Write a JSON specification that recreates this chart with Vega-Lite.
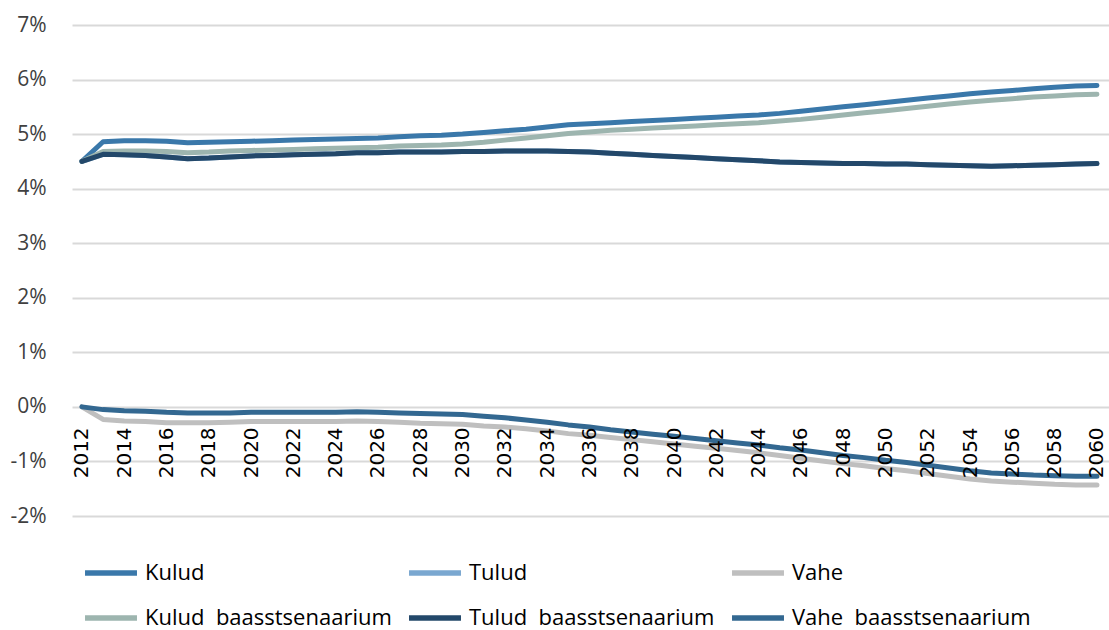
{
  "$schema": "https://vega.github.io/schema/vega-lite/v6.json",
  "width": 1037,
  "height": 491,
  "autosize": {"type": "none"},
  "padding": {"left": 72, "top": 25, "right": 0, "bottom": 114},
  "background": "white",
  "config": {"view": {"stroke": null}},
  "data": {
    "values": [
      {"year": 2012, "Kulud": 4.50, "Tulud": 4.50, "Vahe": 0.00, "Kulud baasstsenaarium": 4.50, "Tulud baasstsenaarium": 4.50, "Vahe baasstsenaarium": 0.00},
      {"year": 2013, "Kulud": 4.86, "Tulud": 4.63, "Vahe": -0.23, "Kulud baasstsenaarium": 4.68, "Tulud baasstsenaarium": 4.63, "Vahe baasstsenaarium": -0.05},
      {"year": 2014, "Kulud": 4.88, "Tulud": 4.62, "Vahe": -0.26, "Kulud baasstsenaarium": 4.69, "Tulud baasstsenaarium": 4.62, "Vahe baasstsenaarium": -0.07},
      {"year": 2015, "Kulud": 4.88, "Tulud": 4.61, "Vahe": -0.27, "Kulud baasstsenaarium": 4.69, "Tulud baasstsenaarium": 4.61, "Vahe baasstsenaarium": -0.08},
      {"year": 2016, "Kulud": 4.87, "Tulud": 4.58, "Vahe": -0.29, "Kulud baasstsenaarium": 4.68, "Tulud baasstsenaarium": 4.58, "Vahe baasstsenaarium": -0.10},
      {"year": 2017, "Kulud": 4.84, "Tulud": 4.55, "Vahe": -0.29, "Kulud baasstsenaarium": 4.66, "Tulud baasstsenaarium": 4.55, "Vahe baasstsenaarium": -0.11},
      {"year": 2018, "Kulud": 4.85, "Tulud": 4.56, "Vahe": -0.29, "Kulud baasstsenaarium": 4.67, "Tulud baasstsenaarium": 4.56, "Vahe baasstsenaarium": -0.11},
      {"year": 2019, "Kulud": 4.86, "Tulud": 4.58, "Vahe": -0.28, "Kulud baasstsenaarium": 4.69, "Tulud baasstsenaarium": 4.58, "Vahe baasstsenaarium": -0.11},
      {"year": 2020, "Kulud": 4.87, "Tulud": 4.60, "Vahe": -0.27, "Kulud baasstsenaarium": 4.70, "Tulud baasstsenaarium": 4.60, "Vahe baasstsenaarium": -0.10},
      {"year": 2021, "Kulud": 4.88, "Tulud": 4.61, "Vahe": -0.27, "Kulud baasstsenaarium": 4.71, "Tulud baasstsenaarium": 4.61, "Vahe baasstsenaarium": -0.10},
      {"year": 2022, "Kulud": 4.89, "Tulud": 4.62, "Vahe": -0.27, "Kulud baasstsenaarium": 4.72, "Tulud baasstsenaarium": 4.62, "Vahe baasstsenaarium": -0.10},
      {"year": 2023, "Kulud": 4.90, "Tulud": 4.63, "Vahe": -0.27, "Kulud baasstsenaarium": 4.73, "Tulud baasstsenaarium": 4.63, "Vahe baasstsenaarium": -0.10},
      {"year": 2024, "Kulud": 4.91, "Tulud": 4.64, "Vahe": -0.27, "Kulud baasstsenaarium": 4.74, "Tulud baasstsenaarium": 4.64, "Vahe baasstsenaarium": -0.10},
      {"year": 2025, "Kulud": 4.92, "Tulud": 4.66, "Vahe": -0.26, "Kulud baasstsenaarium": 4.75, "Tulud baasstsenaarium": 4.66, "Vahe baasstsenaarium": -0.09},
      {"year": 2026, "Kulud": 4.93, "Tulud": 4.66, "Vahe": -0.27, "Kulud baasstsenaarium": 4.76, "Tulud baasstsenaarium": 4.66, "Vahe baasstsenaarium": -0.10},
      {"year": 2027, "Kulud": 4.95, "Tulud": 4.67, "Vahe": -0.28, "Kulud baasstsenaarium": 4.78, "Tulud baasstsenaarium": 4.67, "Vahe baasstsenaarium": -0.11},
      {"year": 2028, "Kulud": 4.97, "Tulud": 4.67, "Vahe": -0.30, "Kulud baasstsenaarium": 4.79, "Tulud baasstsenaarium": 4.67, "Vahe baasstsenaarium": -0.12},
      {"year": 2029, "Kulud": 4.98, "Tulud": 4.67, "Vahe": -0.31, "Kulud baasstsenaarium": 4.80, "Tulud baasstsenaarium": 4.67, "Vahe baasstsenaarium": -0.13},
      {"year": 2030, "Kulud": 5.00, "Tulud": 4.68, "Vahe": -0.32, "Kulud baasstsenaarium": 4.82, "Tulud baasstsenaarium": 4.68, "Vahe baasstsenaarium": -0.14},
      {"year": 2031, "Kulud": 5.03, "Tulud": 4.68, "Vahe": -0.35, "Kulud baasstsenaarium": 4.85, "Tulud baasstsenaarium": 4.68, "Vahe baasstsenaarium": -0.17},
      {"year": 2032, "Kulud": 5.06, "Tulud": 4.69, "Vahe": -0.37, "Kulud baasstsenaarium": 4.89, "Tulud baasstsenaarium": 4.69, "Vahe baasstsenaarium": -0.20},
      {"year": 2033, "Kulud": 5.09, "Tulud": 4.69, "Vahe": -0.40, "Kulud baasstsenaarium": 4.93, "Tulud baasstsenaarium": 4.69, "Vahe baasstsenaarium": -0.24},
      {"year": 2034, "Kulud": 5.13, "Tulud": 4.69, "Vahe": -0.44, "Kulud baasstsenaarium": 4.97, "Tulud baasstsenaarium": 4.69, "Vahe baasstsenaarium": -0.28},
      {"year": 2035, "Kulud": 5.17, "Tulud": 4.68, "Vahe": -0.49, "Kulud baasstsenaarium": 5.01, "Tulud baasstsenaarium": 4.68, "Vahe baasstsenaarium": -0.33},
      {"year": 2036, "Kulud": 5.19, "Tulud": 4.67, "Vahe": -0.52, "Kulud baasstsenaarium": 5.04, "Tulud baasstsenaarium": 4.67, "Vahe baasstsenaarium": -0.37},
      {"year": 2037, "Kulud": 5.21, "Tulud": 4.65, "Vahe": -0.56, "Kulud baasstsenaarium": 5.07, "Tulud baasstsenaarium": 4.65, "Vahe baasstsenaarium": -0.42},
      {"year": 2038, "Kulud": 5.23, "Tulud": 4.63, "Vahe": -0.60, "Kulud baasstsenaarium": 5.09, "Tulud baasstsenaarium": 4.63, "Vahe baasstsenaarium": -0.46},
      {"year": 2039, "Kulud": 5.25, "Tulud": 4.61, "Vahe": -0.64, "Kulud baasstsenaarium": 5.11, "Tulud baasstsenaarium": 4.61, "Vahe baasstsenaarium": -0.50},
      {"year": 2040, "Kulud": 5.27, "Tulud": 4.59, "Vahe": -0.68, "Kulud baasstsenaarium": 5.13, "Tulud baasstsenaarium": 4.59, "Vahe baasstsenaarium": -0.54},
      {"year": 2041, "Kulud": 5.29, "Tulud": 4.57, "Vahe": -0.72, "Kulud baasstsenaarium": 5.15, "Tulud baasstsenaarium": 4.57, "Vahe baasstsenaarium": -0.58},
      {"year": 2042, "Kulud": 5.31, "Tulud": 4.55, "Vahe": -0.76, "Kulud baasstsenaarium": 5.17, "Tulud baasstsenaarium": 4.55, "Vahe baasstsenaarium": -0.62},
      {"year": 2043, "Kulud": 5.33, "Tulud": 4.53, "Vahe": -0.80, "Kulud baasstsenaarium": 5.19, "Tulud baasstsenaarium": 4.53, "Vahe baasstsenaarium": -0.66},
      {"year": 2044, "Kulud": 5.35, "Tulud": 4.51, "Vahe": -0.84, "Kulud baasstsenaarium": 5.21, "Tulud baasstsenaarium": 4.51, "Vahe baasstsenaarium": -0.70},
      {"year": 2045, "Kulud": 5.38, "Tulud": 4.49, "Vahe": -0.89, "Kulud baasstsenaarium": 5.24, "Tulud baasstsenaarium": 4.49, "Vahe baasstsenaarium": -0.75},
      {"year": 2046, "Kulud": 5.42, "Tulud": 4.48, "Vahe": -0.94, "Kulud baasstsenaarium": 5.27, "Tulud baasstsenaarium": 4.48, "Vahe baasstsenaarium": -0.79},
      {"year": 2047, "Kulud": 5.46, "Tulud": 4.47, "Vahe": -0.99, "Kulud baasstsenaarium": 5.31, "Tulud baasstsenaarium": 4.47, "Vahe baasstsenaarium": -0.84},
      {"year": 2048, "Kulud": 5.50, "Tulud": 4.46, "Vahe": -1.04, "Kulud baasstsenaarium": 5.35, "Tulud baasstsenaarium": 4.46, "Vahe baasstsenaarium": -0.89},
      {"year": 2049, "Kulud": 5.54, "Tulud": 4.46, "Vahe": -1.08, "Kulud baasstsenaarium": 5.39, "Tulud baasstsenaarium": 4.46, "Vahe baasstsenaarium": -0.93},
      {"year": 2050, "Kulud": 5.58, "Tulud": 4.45, "Vahe": -1.13, "Kulud baasstsenaarium": 5.43, "Tulud baasstsenaarium": 4.45, "Vahe baasstsenaarium": -0.98},
      {"year": 2051, "Kulud": 5.62, "Tulud": 4.45, "Vahe": -1.17, "Kulud baasstsenaarium": 5.47, "Tulud baasstsenaarium": 4.45, "Vahe baasstsenaarium": -1.02},
      {"year": 2052, "Kulud": 5.66, "Tulud": 4.44, "Vahe": -1.22, "Kulud baasstsenaarium": 5.51, "Tulud baasstsenaarium": 4.44, "Vahe baasstsenaarium": -1.07},
      {"year": 2053, "Kulud": 5.70, "Tulud": 4.43, "Vahe": -1.27, "Kulud baasstsenaarium": 5.55, "Tulud baasstsenaarium": 4.43, "Vahe baasstsenaarium": -1.12},
      {"year": 2054, "Kulud": 5.74, "Tulud": 4.42, "Vahe": -1.32, "Kulud baasstsenaarium": 5.59, "Tulud baasstsenaarium": 4.42, "Vahe baasstsenaarium": -1.17},
      {"year": 2055, "Kulud": 5.77, "Tulud": 4.41, "Vahe": -1.36, "Kulud baasstsenaarium": 5.62, "Tulud baasstsenaarium": 4.41, "Vahe baasstsenaarium": -1.21},
      {"year": 2056, "Kulud": 5.80, "Tulud": 4.42, "Vahe": -1.38, "Kulud baasstsenaarium": 5.65, "Tulud baasstsenaarium": 4.42, "Vahe baasstsenaarium": -1.23},
      {"year": 2057, "Kulud": 5.83, "Tulud": 4.43, "Vahe": -1.40, "Kulud baasstsenaarium": 5.68, "Tulud baasstsenaarium": 4.43, "Vahe baasstsenaarium": -1.25},
      {"year": 2058, "Kulud": 5.86, "Tulud": 4.44, "Vahe": -1.42, "Kulud baasstsenaarium": 5.70, "Tulud baasstsenaarium": 4.44, "Vahe baasstsenaarium": -1.26},
      {"year": 2059, "Kulud": 5.88, "Tulud": 4.45, "Vahe": -1.43, "Kulud baasstsenaarium": 5.72, "Tulud baasstsenaarium": 4.45, "Vahe baasstsenaarium": -1.27},
      {"year": 2060, "Kulud": 5.89, "Tulud": 4.46, "Vahe": -1.43, "Kulud baasstsenaarium": 5.73, "Tulud baasstsenaarium": 4.46, "Vahe baasstsenaarium": -1.27}
    ]
  },
  "transform": [
    {"fold": ["Kulud", "Tulud", "Vahe", "Kulud baasstsenaarium", "Tulud baasstsenaarium", "Vahe baasstsenaarium"], "as": ["series", "value"]}
  ],
  "mark": {"type": "line", "strokeWidth": 5, "strokeCap": "round", "strokeJoin": "round"},
  "encoding": {
    "x": {
      "field": "year",
      "type": "quantitative",
      "scale": {"domain": [2011.53, 2060.57], "nice": false, "zero": false},
      "axis": {
        "title": null,
        "values": [2012, 2014, 2016, 2018, 2020, 2022, 2024, 2026, 2028, 2030, 2032, 2034, 2036, 2038, 2040, 2042, 2044, 2046, 2048, 2050, 2052, 2054, 2056, 2058, 2060],
        "format": "d",
        "labelAngle": -90,
        "labelAlign": "right",
        "labelBaseline": "middle",
        "labelFlush": false,
        "labelOverlap": false,
        "domain": false,
        "ticks": false,
        "grid": false,
        "offset": -109.1,
        "labelPadding": 20,
        "labelFont": "DejaVu Sans",
        "labelFontSize": 20,
        "labelColor": "#000000",
        "zindex": 1
      }
    },
    "y": {
      "field": "value",
      "type": "quantitative",
      "scale": {"domain": [-2, 7], "nice": false, "zero": false},
      "axis": {
        "title": null,
        "values": [-2, -1, 0, 1, 2, 3, 4, 5, 6, 7],
        "labelExpr": "datum.value + '%'",
        "domain": false,
        "ticks": false,
        "gridColor": "#D9D9D9",
        "gridWidth": 2,
        "labelPadding": 26,
        "labelFont": "Open Sans",
        "labelFontSize": 21,
        "labelColor": "#404040",
        "labelFlush": false
      }
    },
    "color": {
      "field": "series",
      "type": "nominal",
      "sort": null,
      "scale": {
        "domain": ["Kulud", "Tulud", "Vahe", "Kulud baasstsenaarium", "Tulud baasstsenaarium", "Vahe baasstsenaarium"],
        "range": ["#3A78AA", "#7AA7D0", "#BFBFBF", "#9DB5AF", "#23486A", "#336891"]
      },
      "legend": {
        "title": null,
        "orient": "none",
        "legendX": 10,
        "legendY": 519,
        "direction": "horizontal",
        "columns": 3,
        "symbolType": "stroke",
        "symbolSize": 2700,
        "symbolStrokeWidth": 5.5,
        "labelFont": "Open Sans",
        "labelFontSize": 22,
        "labelColor": "#000000",
        "labelOffset": 5,
        "labelLimit": 400,
        "columnPadding": 6,
        "rowPadding": 5,
        "padding": 0,
        "labelExpr": "replace(datum.label, ' baas', '\u00a0 baas')"
      }
    }
  }
}
